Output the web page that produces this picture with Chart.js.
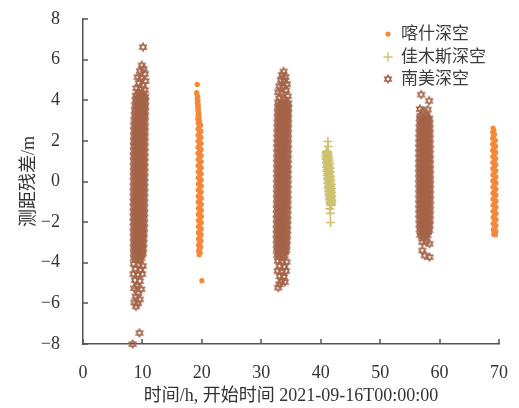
<!DOCTYPE html>
<html>
<head>
<meta charset="utf-8">
<script src="https://cdn.jsdelivr.net/npm/chart.js@4.4.1/dist/chart.umd.min.js"></script>
<style>
  html, body { margin: 0; padding: 0; background: #ffffff; }
  #wrap { width: 519px; height: 408px; }
</style>
</head>
<body>
<div id="wrap"><canvas id="chart" width="519" height="408"></canvas></div>
<script>
// Station names (legend order) and axis ticks
const seriesNames = ['喀什深空', '佳木斯深空', '南美深空'];
const xTicks = [0, 10, 20, 30, 40, 50, 60, 70];
const yTicks = [-8, -6, -4, -2, 0, 2, 4, 6, 8];

// Ranging residuals: [hours since 2021-09-16T00:00:00, residual in m]
const kashiPass1 = [
  [19.22,4.78],[19.12,4.38],[19.18,4.28],[19.30,4.18],[19.22,4.08],[19.35,3.98],[19.24,3.88],[19.40,3.78],
  [19.28,3.68],[19.45,3.58],[19.32,3.48],[19.50,3.38],[19.36,3.28],[19.55,3.18],[19.30,3.08],
  [19.62,2.98],[19.38,2.88],[19.80,2.78],[19.56,2.68],[19.34,2.58],[19.84,2.48],[19.60,2.38],[19.36,2.28],
  [19.86,2.18],[19.62,2.08],[19.35,1.98],[19.88,1.88],[19.60,1.78],[19.36,1.68],[19.87,1.58],[19.63,1.48],
  [19.35,1.38],[19.89,1.28],[19.61,1.18],[19.37,1.08],[19.88,0.98],[19.62,0.88],[19.36,0.78],[19.90,0.68],
  [19.64,0.58],[19.38,0.48],[19.89,0.38],[19.62,0.28],[19.37,0.18],[19.90,0.08],[19.63,-0.02],[19.39,-0.12],
  [19.91,-0.22],[19.64,-0.32],[19.38,-0.42],[19.90,-0.52],[19.65,-0.62],[19.40,-0.72],[19.91,-0.82],[19.64,-0.92],
  [19.39,-1.02],[19.92,-1.12],[19.66,-1.22],[19.41,-1.32],[19.91,-1.42],[19.65,-1.52],[19.40,-1.62],[19.92,-1.72],
  [19.67,-1.82],[19.42,-1.92],[19.91,-2.02],[19.66,-2.12],[19.41,-2.22],[19.90,-2.32],[19.67,-2.42],[19.43,-2.52],
  [19.88,-2.62],[19.65,-2.72],[19.42,-2.82],[19.85,-2.92],[19.63,-3.02],[19.44,-3.12],[19.80,-3.22],[19.60,-3.32],
  [19.45,-3.42],[19.72,-3.50],[19.55,-3.60],[20.00,-4.88]
];
const kashiPass2 = [
  [69.00,2.63],[69.12,2.53],[68.95,2.43],[69.25,2.33],[69.05,2.23],[68.92,2.13],[69.38,2.03],[69.15,1.93],
  [68.93,1.83],[69.42,1.73],[69.18,1.63],[68.94,1.53],[69.44,1.43],[69.20,1.33],[68.95,1.23],[69.45,1.13],
  [69.21,1.03],[68.96,0.93],[69.46,0.83],[69.22,0.73],[68.96,0.63],[69.47,0.53],[69.22,0.43],[68.97,0.33],
  [69.47,0.23],[69.23,0.13],[68.97,0.03],[69.48,-0.07],[69.23,-0.17],[68.98,-0.27],[69.48,-0.37],[69.24,-0.47],
  [68.98,-0.57],[69.49,-0.67],[69.24,-0.77],[68.99,-0.87],[69.49,-0.97],[69.25,-1.07],[68.99,-1.17],[69.50,-1.27],
  [69.25,-1.37],[69.00,-1.47],[69.50,-1.57],[69.26,-1.67],[69.01,-1.77],[69.50,-1.87],[69.26,-1.97],[69.02,-2.07],
  [69.49,-2.17],[69.27,-2.27],[69.04,-2.37],[69.47,-2.45],[69.22,-2.53],[69.10,-2.60],[69.40,-2.62]
];
const jiamusiPass = [
  [41.20,1.97],[41.24,1.72],
  [41.05,1.50],[40.96,1.46],[41.17,1.42],[40.93,1.38],[41.24,1.34],[41.10,1.30],[40.89,1.26],[41.34,1.22],
  [41.05,1.18],[41.22,1.14],[40.89,1.10],[41.42,1.06],[41.17,1.02],[41.05,0.98],[41.34,0.94],[40.93,0.90],
  [41.50,0.86],[41.23,0.82],[41.10,0.78],[41.39,0.74],[40.98,0.70],[41.55,0.66],[41.28,0.62],[41.15,0.58],
  [41.44,0.54],[41.03,0.50],[41.60,0.46],[41.33,0.42],[41.20,0.38],[41.49,0.34],[41.08,0.30],[41.65,0.26],
  [41.38,0.22],[41.25,0.18],[41.54,0.14],[41.13,0.10],[41.70,0.06],[41.43,0.02],[41.30,-0.02],[41.60,-0.06],
  [41.19,-0.10],[41.76,-0.14],[41.49,-0.18],[41.36,-0.22],[41.65,-0.26],[41.24,-0.30],[41.81,-0.34],[41.54,-0.38],
  [41.41,-0.42],[41.70,-0.46],[41.31,-0.50],[41.84,-0.54],[41.59,-0.58],[41.46,-0.62],[41.75,-0.66],[41.40,-0.70],
  [41.85,-0.74],[41.64,-0.78],[41.53,-0.82],[41.78,-0.86],[41.49,-0.90],[41.86,-0.94],[41.69,-0.98],[41.60,-1.02],
  [41.82,-1.06],[41.65,-1.10],[41.80,-1.14],[41.75,-1.18],
  [41.55,-1.35],[41.62,-1.57],[41.66,-2.02]
];
const nanmeiPass1 = [
  [10.10,6.62],
  [9.90,5.72],[10.20,5.55],[9.60,5.45],[10.40,5.30],[9.20,5.15],[9.80,5.10],[10.50,4.95],[9.40,4.85],
  [10.10,4.75],[9.00,4.60],[9.70,4.55],[10.40,4.50],[9.30,4.40],[10.00,4.35],
  [8.90,4.24],[9.18,4.12],[9.47,4.27],[9.75,4.15],[10.02,4.22],[10.28,4.11],[10.46,4.19],
  [8.86,4.00],[9.14,3.88],[9.42,4.01],[9.71,3.90],[9.99,3.98],[10.26,3.87],[10.45,3.96],
  [8.80,3.75],[9.10,3.63],[9.38,3.76],[9.67,3.64],[9.96,3.74],[10.23,3.62],[10.44,3.71],
  [8.75,3.50],[9.05,3.38],[9.34,3.51],[9.63,3.39],[9.93,3.49],[10.20,3.37],[10.42,3.46],
  [8.70,3.25],[9.00,3.13],[9.30,3.26],[9.60,3.14],[9.90,3.24],[10.18,3.12],[10.40,3.21],
  [8.66,3.00],[8.96,2.88],[9.27,3.01],[9.57,2.89],[9.87,2.99],[10.15,2.87],[10.38,2.96],
  [8.64,2.75],[8.94,2.63],[9.25,2.76],[9.55,2.64],[9.85,2.74],[10.13,2.62],[10.37,2.71],
  [8.62,2.50],[8.92,2.38],[9.23,2.51],[9.53,2.39],[9.83,2.49],[10.12,2.37],[10.36,2.46],
  [8.61,2.25],[8.91,2.13],[9.21,2.26],[9.52,2.14],[9.82,2.24],[10.11,2.12],[10.35,2.21],
  [8.60,2.00],[8.90,1.88],[9.20,2.01],[9.51,1.89],[9.81,1.99],[10.10,1.87],[10.35,1.96],
  [8.59,1.75],[8.89,1.63],[9.19,1.76],[9.50,1.64],[9.80,1.74],[10.09,1.62],[10.34,1.71],
  [8.59,1.50],[8.89,1.38],[9.19,1.51],[9.49,1.39],[9.79,1.49],[10.08,1.37],[10.34,1.46],
  [8.58,1.25],[8.88,1.13],[9.18,1.26],[9.48,1.14],[9.78,1.24],[10.08,1.12],[10.33,1.21],
  [8.58,1.00],[8.88,0.88],[9.18,1.01],[9.48,0.89],[9.78,0.99],[10.07,0.87],[10.33,0.96],
  [8.57,0.75],[8.87,0.63],[9.17,0.76],[9.47,0.64],[9.77,0.74],[10.07,0.62],[10.32,0.71],
  [8.57,0.50],[8.87,0.38],[9.17,0.51],[9.47,0.39],[9.77,0.49],[10.06,0.37],[10.32,0.46],
  [8.56,0.25],[8.86,0.13],[9.16,0.26],[9.46,0.14],[9.76,0.24],[10.06,0.12],[10.31,0.21],
  [8.56,0.00],[8.86,-0.12],[9.16,0.01],[9.46,-0.11],[9.76,-0.01],[10.05,-0.13],[10.31,-0.04],
  [8.55,-0.25],[8.85,-0.37],[9.15,-0.24],[9.45,-0.36],[9.75,-0.26],[10.05,-0.38],[10.30,-0.29],
  [8.55,-0.50],[8.85,-0.62],[9.15,-0.49],[9.45,-0.61],[9.75,-0.51],[10.04,-0.63],[10.30,-0.54],
  [8.55,-0.75],[8.84,-0.87],[9.14,-0.74],[9.44,-0.86],[9.74,-0.76],[10.04,-0.88],[10.29,-0.79],
  [8.55,-1.00],[8.84,-1.12],[9.14,-0.99],[9.44,-1.11],[9.74,-1.01],[10.03,-1.13],[10.29,-1.04],
  [8.55,-1.25],[8.84,-1.37],[9.13,-1.24],[9.43,-1.36],[9.73,-1.26],[10.03,-1.38],[10.28,-1.29],
  [8.55,-1.50],[8.83,-1.62],[9.13,-1.49],[9.43,-1.61],[9.73,-1.51],[10.02,-1.63],[10.27,-1.54],
  [8.55,-1.75],[8.83,-1.87],[9.12,-1.74],[9.42,-1.86],[9.72,-1.76],[10.01,-1.88],[10.26,-1.79],
  [8.55,-2.00],[8.83,-2.12],[9.12,-1.99],[9.41,-2.11],[9.71,-2.01],[10.00,-2.13],[10.25,-2.04],
  [8.55,-2.25],[8.82,-2.37],[9.11,-2.24],[9.40,-2.36],[9.70,-2.26],[9.99,-2.38],[10.23,-2.29],
  [8.55,-2.50],[8.82,-2.62],[9.10,-2.49],[9.39,-2.61],[9.69,-2.51],[9.97,-2.63],[10.20,-2.54],
  [8.55,-2.75],[8.82,-2.87],[9.09,-2.74],[9.38,-2.86],[9.67,-2.76],[9.95,-2.88],[10.17,-2.79],
  [8.56,-3.00],[8.82,-3.12],[9.08,-2.99],[9.37,-3.11],[9.65,-3.01],[9.92,-3.13],[10.14,-3.04],
  [8.57,-3.25],[8.82,-3.37],[9.07,-3.24],[9.35,-3.36],[9.63,-3.26],[9.89,-3.38],[10.10,-3.29],
  [8.58,-3.50],[8.83,-3.62],[9.07,-3.49],[9.33,-3.61],[9.60,-3.51],[9.86,-3.63],[10.06,-3.54],
  [8.60,-3.76],[8.90,-3.85],[9.20,-3.74],[9.50,-3.86],[9.80,-3.78],
  [8.55,-4.05],[9.35,-4.10],[10.05,-4.15],[8.80,-4.30],[9.70,-4.35],[8.50,-4.55],[9.25,-4.60],[9.95,-4.55],
  [8.75,-4.85],[9.55,-4.90],[9.10,-5.15],[8.60,-5.25],[9.80,-5.30],[9.30,-5.50],[8.85,-5.65],[9.55,-5.80],
  [8.65,-5.95],[9.25,-6.00],[8.90,-6.15],
  [9.50,-7.45],[8.35,-8.00]
];
const nanmeiPass2 = [
  [33.75,5.42],[33.50,5.25],[34.05,5.15],[33.30,5.00],[33.85,4.95],[34.30,4.80],[33.05,4.70],[33.60,4.65],
  [34.15,4.50],[32.85,4.40],[33.40,4.35],[34.45,4.20],[33.00,4.10],[33.90,4.05],
  [32.85,3.90],[33.15,3.78],[33.45,3.91],[33.75,3.79],[34.05,3.89],[34.32,3.77],[34.52,3.86],
  [32.82,3.65],[33.12,3.53],[33.42,3.66],[33.72,3.54],[34.02,3.64],[34.30,3.52],[34.51,3.61],
  [32.79,3.40],[33.09,3.28],[33.39,3.41],[33.69,3.29],[33.99,3.39],[34.28,3.27],[34.50,3.36],
  [32.77,3.15],[33.07,3.03],[33.37,3.16],[33.67,3.04],[33.97,3.14],[34.26,3.02],[34.49,3.11],
  [32.75,2.90],[33.05,2.78],[33.35,2.91],[33.65,2.79],[33.95,2.89],[34.25,2.77],[34.48,2.86],
  [32.74,2.65],[33.04,2.53],[33.34,2.66],[33.64,2.54],[33.94,2.64],[34.24,2.52],[34.47,2.61],
  [32.73,2.40],[33.03,2.28],[33.33,2.41],[33.63,2.29],[33.93,2.39],[34.23,2.27],[34.46,2.36],
  [32.72,2.15],[33.02,2.03],[33.32,2.16],[33.62,2.04],[33.92,2.14],[34.22,2.02],[34.46,2.11],
  [32.71,1.90],[33.01,1.78],[33.31,1.91],[33.61,1.79],[33.91,1.89],[34.21,1.77],[34.45,1.86],
  [32.70,1.65],[33.00,1.53],[33.30,1.66],[33.60,1.54],[33.90,1.64],[34.20,1.52],[34.45,1.61],
  [32.70,1.40],[33.00,1.28],[33.30,1.41],[33.60,1.29],[33.90,1.39],[34.19,1.27],[34.44,1.36],
  [32.69,1.15],[32.99,1.03],[33.29,1.16],[33.59,1.04],[33.89,1.14],[34.19,1.02],[34.44,1.11],
  [32.69,0.90],[32.99,0.78],[33.29,0.91],[33.59,0.79],[33.89,0.89],[34.18,0.77],[34.43,0.86],
  [32.68,0.65],[32.98,0.53],[33.28,0.66],[33.58,0.54],[33.88,0.64],[34.18,0.52],[34.43,0.61],
  [32.68,0.40],[32.98,0.28],[33.28,0.41],[33.58,0.29],[33.88,0.39],[34.17,0.27],[34.42,0.36],
  [32.67,0.15],[32.97,0.03],[33.27,0.16],[33.57,0.04],[33.87,0.14],[34.17,0.02],[34.42,0.11],
  [32.67,-0.10],[32.97,-0.22],[33.27,-0.09],[33.57,-0.21],[33.87,-0.11],[34.16,-0.23],[34.41,-0.14],
  [32.66,-0.35],[32.96,-0.47],[33.26,-0.34],[33.56,-0.46],[33.86,-0.36],[34.16,-0.48],[34.41,-0.39],
  [32.66,-0.60],[32.96,-0.72],[33.26,-0.59],[33.56,-0.71],[33.86,-0.61],[34.15,-0.73],[34.40,-0.64],
  [32.65,-0.85],[32.95,-0.97],[33.25,-0.84],[33.55,-0.96],[33.85,-0.86],[34.15,-0.98],[34.40,-0.89],
  [32.65,-1.10],[32.95,-1.22],[33.25,-1.09],[33.55,-1.21],[33.85,-1.11],[34.14,-1.23],[34.39,-1.14],
  [32.64,-1.35],[32.94,-1.47],[33.24,-1.34],[33.54,-1.46],[33.84,-1.36],[34.14,-1.48],[34.38,-1.39],
  [32.64,-1.60],[32.94,-1.72],[33.24,-1.59],[33.54,-1.71],[33.84,-1.61],[34.13,-1.73],[34.37,-1.64],
  [32.63,-1.85],[32.93,-1.97],[33.23,-1.84],[33.53,-1.96],[33.83,-1.86],[34.12,-1.98],[34.36,-1.89],
  [32.63,-2.10],[32.93,-2.22],[33.22,-2.09],[33.52,-2.21],[33.82,-2.11],[34.11,-2.23],[34.34,-2.14],
  [32.62,-2.35],[32.92,-2.47],[33.21,-2.34],[33.51,-2.46],[33.81,-2.36],[34.09,-2.48],[34.32,-2.39],
  [32.62,-2.60],[32.91,-2.72],[33.20,-2.59],[33.50,-2.71],[33.79,-2.61],[34.07,-2.73],[34.29,-2.64],
  [32.62,-2.85],[32.90,-2.97],[33.19,-2.84],[33.48,-2.96],[33.77,-2.86],[34.05,-2.98],[34.26,-2.89],
  [32.63,-3.10],[32.90,-3.22],[33.18,-3.09],[33.46,-3.21],[33.75,-3.11],[34.02,-3.23],[34.22,-3.14],
  [32.64,-3.35],[32.90,-3.47],[33.17,-3.34],[33.44,-3.46],[33.72,-3.36],[33.98,-3.48],[34.18,-3.39],
  [32.70,-3.62],[33.00,-3.70],[33.30,-3.60],[33.60,-3.71],[33.90,-3.63],
  [32.80,-3.90],[33.55,-3.95],[34.25,-3.95],[33.05,-4.15],[33.90,-4.20],[32.75,-4.40],[33.45,-4.45],[34.15,-4.40],
  [33.10,-4.65],[33.80,-4.70],[33.35,-4.90],[33.95,-4.95],[33.05,-5.05],[32.85,-5.22]
];
const nanmeiPass3 = [
  [56.90,4.28],[58.25,3.98],[56.70,3.57],[58.00,3.55],[57.30,3.45],[57.80,3.29],[56.80,3.25],
  [56.72,3.15],[57.00,3.03],[57.28,3.16],[57.56,3.04],[57.84,3.14],[58.08,3.02],[58.25,3.11],
  [56.68,2.90],[56.96,2.78],[57.25,2.91],[57.53,2.79],[57.82,2.89],[58.07,2.77],[58.28,2.86],
  [56.65,2.65],[56.94,2.53],[57.23,2.66],[57.52,2.54],[57.81,2.64],[58.07,2.52],[58.30,2.61],
  [56.63,2.40],[56.92,2.28],[57.22,2.41],[57.51,2.29],[57.80,2.39],[58.07,2.27],[58.31,2.36],
  [56.62,2.15],[56.91,2.03],[57.21,2.16],[57.50,2.04],[57.79,2.14],[58.07,2.02],[58.32,2.11],
  [56.61,1.90],[56.91,1.78],[57.20,1.91],[57.50,1.79],[57.79,1.89],[58.07,1.77],[58.32,1.86],
  [56.60,1.65],[56.90,1.53],[57.20,1.66],[57.49,1.54],[57.79,1.64],[58.08,1.52],[58.33,1.61],
  [56.60,1.40],[56.90,1.28],[57.19,1.41],[57.49,1.29],[57.79,1.39],[58.08,1.27],[58.33,1.36],
  [56.59,1.15],[56.89,1.03],[57.19,1.16],[57.49,1.04],[57.79,1.14],[58.08,1.02],[58.34,1.11],
  [56.59,0.90],[56.89,0.78],[57.19,0.91],[57.49,0.79],[57.79,0.89],[58.09,0.77],[58.34,0.86],
  [56.59,0.65],[56.89,0.53],[57.19,0.66],[57.49,0.54],[57.79,0.64],[58.09,0.52],[58.35,0.61],
  [56.59,0.40],[56.89,0.28],[57.19,0.41],[57.49,0.29],[57.79,0.39],[58.09,0.27],[58.35,0.36],
  [56.59,0.15],[56.89,0.03],[57.19,0.16],[57.49,0.04],[57.79,0.14],[58.10,0.02],[58.36,0.11],
  [56.59,-0.10],[56.89,-0.22],[57.19,-0.09],[57.49,-0.21],[57.80,-0.11],[58.10,-0.23],[58.36,-0.14],
  [56.60,-0.35],[56.90,-0.47],[57.20,-0.34],[57.50,-0.46],[57.80,-0.36],[58.10,-0.48],[58.36,-0.39],
  [56.60,-0.60],[56.90,-0.72],[57.20,-0.59],[57.50,-0.71],[57.80,-0.61],[58.10,-0.73],[58.36,-0.64],
  [56.60,-0.85],[56.90,-0.97],[57.20,-0.84],[57.50,-0.96],[57.80,-0.86],[58.10,-0.98],[58.36,-0.89],
  [56.61,-1.10],[56.91,-1.22],[57.21,-1.09],[57.51,-1.21],[57.81,-1.11],[58.10,-1.23],[58.35,-1.14],
  [56.61,-1.35],[56.91,-1.47],[57.21,-1.34],[57.51,-1.46],[57.81,-1.36],[58.10,-1.48],[58.35,-1.39],
  [56.62,-1.60],[56.92,-1.72],[57.22,-1.59],[57.52,-1.71],[57.81,-1.61],[58.09,-1.73],[58.34,-1.64],
  [56.63,-1.85],[56.93,-1.97],[57.23,-1.84],[57.52,-1.96],[57.81,-1.86],[58.08,-1.98],[58.32,-1.89],
  [56.65,-2.10],[56.94,-2.22],[57.24,-2.09],[57.53,-2.21],[57.81,-2.11],[58.07,-2.23],[58.29,-2.14],
  [56.68,-2.35],[56.96,-2.47],[57.25,-2.34],[57.53,-2.46],[57.80,-2.36],[58.05,-2.48],[58.25,-2.39],
  [56.75,-2.62],[57.05,-2.70],[57.35,-2.60],[57.65,-2.71],[57.95,-2.63],
  [57.10,-2.98],[57.70,-2.95],[58.30,-3.06],[57.10,-3.39],[57.50,-3.64],[58.30,-3.72]
];

const COLORS = { kashi: '#f5883a', jiamusi: '#cfc071', nanmei: '#a5654a', axis: '#555555', text: '#333333' };
const FONT_FAMILY = '"Liberation Serif", "Times New Roman", "Noto Sans CJK SC", serif';

const toXY = pass => pass.map(([t, r]) => ({ x: t, y: r }));

// Outline hexagram used as the marker of the 南美 station
function hexagramMark(color, r, lw) {
  const s = Math.ceil(2 * r + lw + 2);
  const cv = document.createElement('canvas');
  cv.width = s; cv.height = s;
  const g = cv.getContext('2d');
  g.strokeStyle = color; g.lineWidth = lw;
  const c = s / 2;
  [-90, 90].forEach(start => {
    g.beginPath();
    for (let k = 0; k < 3; k++) {
      const a = (start + 120 * k) * Math.PI / 180;
      const px = c + r * Math.cos(a), py = c + r * Math.sin(a);
      if (k === 0) g.moveTo(px, py); else g.lineTo(px, py);
    }
    g.closePath();
    g.stroke();
  });
  return cv;
}
const hexMark = hexagramMark(COLORS.nanmei, 4, 1.25);

// Inward tick marks and the in-plot legend
const decorations = {
  id: 'decorations',
  afterDraw(chart) {
    const { ctx, chartArea: a, scales: { x, y } } = chart;
    ctx.save();
    ctx.strokeStyle = COLORS.axis;
    ctx.lineWidth = 1.5;
    ctx.beginPath();
    xTicks.forEach(v => { const px = Math.round(x.getPixelForValue(v)); ctx.moveTo(px, a.bottom); ctx.lineTo(px, a.bottom - 5); });
    yTicks.forEach(v => { const py = Math.round(y.getPixelForValue(v)); ctx.moveTo(a.left, py); ctx.lineTo(a.left + 5, py); });
    ctx.stroke();

    const lx = a.right - 111, tx = a.right - 98;
    const rows = [a.top + 15, a.top + 38, a.top + 60];
    // 喀什: filled dot
    ctx.fillStyle = COLORS.kashi;
    ctx.beginPath(); ctx.arc(lx, rows[0], 2.6, 0, Math.PI * 2); ctx.fill();
    // 佳木斯: plus
    ctx.strokeStyle = COLORS.jiamusi; ctx.lineWidth = 1.5;
    ctx.beginPath();
    ctx.moveTo(lx - 4.5, rows[1]); ctx.lineTo(lx + 4.5, rows[1]);
    ctx.moveTo(lx, rows[1] - 4.5); ctx.lineTo(lx, rows[1] + 4.5);
    ctx.stroke();
    // 南美: hexagram
    ctx.drawImage(hexMark, lx - hexMark.width / 2, rows[2] - hexMark.height / 2);

    ctx.fillStyle = '#3c3c3c';
    ctx.font = '17px ' + FONT_FAMILY;
    ctx.textAlign = 'left';
    ctx.textBaseline = 'middle';
    seriesNames.forEach((name, i) => ctx.fillText(name, tx, rows[i] + 1));
    ctx.restore();
  }
};

const tickFont = { family: FONT_FAMILY, size: 18 };
const minus = v => String(v).replace('-', '\u2212');

new Chart(document.getElementById('chart'), {
  type: 'scatter',
  data: {
    datasets: [
      {
        label: seriesNames[0],
        data: toXY(kashiPass1).concat(toXY(kashiPass2)),
        pointStyle: 'circle', pointRadius: 2.6, pointBorderWidth: 0,
        backgroundColor: COLORS.kashi, borderColor: COLORS.kashi
      },
      {
        label: seriesNames[1],
        data: toXY(jiamusiPass),
        pointStyle: 'cross', pointRadius: 4.5, pointBorderWidth: 1.6,
        backgroundColor: COLORS.jiamusi, borderColor: COLORS.jiamusi
      },
      {
        label: seriesNames[2],
        data: toXY(nanmeiPass1).concat(toXY(nanmeiPass2), toXY(nanmeiPass3)),
        pointStyle: hexMark, pointRadius: 4,
        backgroundColor: COLORS.nanmei, borderColor: COLORS.nanmei
      }
    ]
  },
  options: {
    responsive: false,
    animation: false,
    devicePixelRatio: 1,
    clip: false,
    layout: { padding: { top: 19, right: 20, left: 0, bottom: 0 } },
    plugins: { legend: { display: false }, tooltip: { enabled: false } },
    scales: {
      x: {
        type: 'linear', min: 0, max: 70,
        afterBuildTicks: s => { s.ticks = xTicks.map(v => ({ value: v })); },
        afterFit: s => { s.height = 64; s.paddingLeft = 0; s.paddingRight = 0; },
        grid: { display: false },
        border: { display: true, color: COLORS.axis, width: 1.5 },
        ticks: { font: tickFont, color: COLORS.text, padding: 10, maxRotation: 0, callback: minus },
        title: {
          display: true, text: '时间/h, 开始时间 2021-09-16T00:00:00',
          font: { family: FONT_FAMILY, size: 18 }, color: COLORS.text,
          padding: { top: 0, bottom: 1 }
        }
      },
      y: {
        type: 'linear', min: -8, max: 8,
        afterBuildTicks: s => { s.ticks = yTicks.map(v => ({ value: v })); },
        afterFit: s => { s.width = 83; s.paddingTop = 0; s.paddingBottom = 0; },
        grid: { display: false },
        border: { display: true, color: COLORS.axis, width: 1.5 },
        ticks: { font: tickFont, color: COLORS.text, padding: 15, callback: minus },
        title: {
          display: true, text: '测距残差/m',
          font: { family: FONT_FAMILY, size: 18 }, color: COLORS.text,
          padding: { top: 18, bottom: 0 }
        }
      }
    }
  },
  plugins: [decorations]
});
</script>
</body>
</html>
